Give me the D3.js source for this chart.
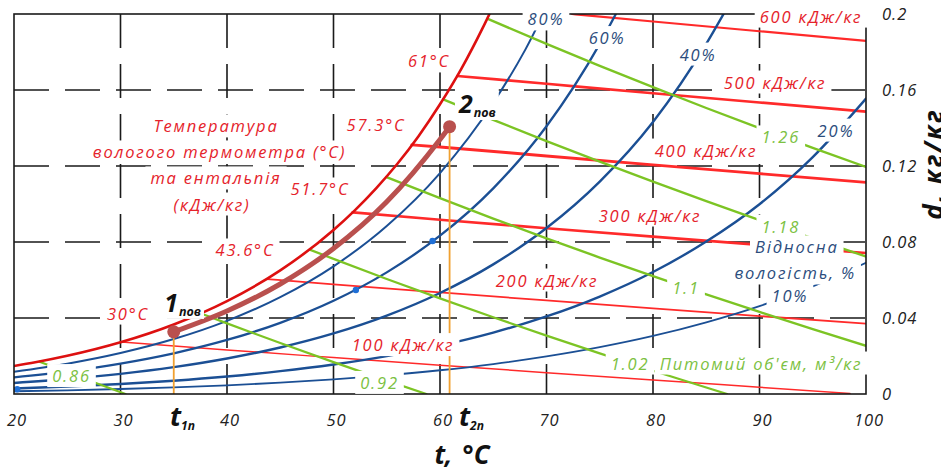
<!DOCTYPE html>
<html><head><meta charset="utf-8">
<script src="https://cdn.jsdelivr.net/npm/d3@7"></script>
<style>
body{margin:0;background:#fff;}
text{font-family:"Open Sans","Noto Sans",sans-serif;font-style:italic;}
</style></head><body>
<svg id="c" width="941" height="472"></svg>
<script>
// ---------- axes ----------
const tTicks = [20,30,40,50,60,70,80,90,100];
const tTickLabels = ["20","30","40","50","60","70","80","90","100"];
const dTicks = [0,0.04,0.08,0.12,0.16,0.2];
const dTickLabels = ["0","0.04","0.08","0.12","0.16","0.2"];

// ---------- saturation curve (φ = 100 %) [t, d] ----------
const saturation = [[20,0.0147],[22,0.01667],[25,0.02008],[30,0.0272],[35,0.03658],[40,0.04889],[45,0.06505],[50,0.08634],[52,0.09667],[54,0.10825],[56,0.12117],[58,0.13582],[60,0.15249],[62,0.1711],[64,0.19253],[65,0.20417]];

// ---------- relative humidity curves [t, d] ----------
const rh80 = [[20,0.0117],[25,0.01596],[30,0.02158],[35,0.02892],[40,0.03851],[45,0.05097],[50,0.0672],[55,0.08841],[60,0.11629],[65,0.15325],[68,0.18111],[70,0.2033]];
const rh60 = [[20,0.00873],[25,0.01189],[30,0.01604],[35,0.02144],[40,0.02844],[45,0.03746],[50,0.04908],[55,0.06402],[60,0.08332],[65,0.10825],[70,0.14095],[75,0.1843],[77,0.20525]];
const rh40 = [[20,0.0058],[25,0.00788],[30,0.0106],[35,0.01413],[40,0.01868],[45,0.02448],[50,0.03188],[55,0.04127],[60,0.05318],[65,0.06823],[70,0.08737],[75,0.11182],[80,0.14318],[85,0.1843],[87,0.20373]];
const rh20 = [[20,0.00289],[25,0.00392],[30,0.00526],[35,0.00699],[40,0.0092],[45,0.01201],[50,0.01554],[55,0.01997],[60,0.0255],[65,0.03234],[70,0.04082],[75,0.0513],[80,0.0642],[85,0.08026],[90,0.09989],[95,0.12469],[100,0.1555]];
const rh10 = [[20,0.00144],[25,0.00195],[30,0.00262],[35,0.00348],[40,0.00456],[45,0.00594],[50,0.00767],[55,0.00983],[60,0.01249],[65,0.01576],[70,0.01976],[75,0.02463],[80,0.03053],[85,0.0377],[90,0.04623],[95,0.05667],[100,0.0691]];

// ---------- enthalpy / wet-bulb lines [t, d] ----------
const h100 = [[30.1,0.0274],[40,0.0232],[50,0.01916],[60,0.01517],[70,0.01124],[80,0.00737],[90,0.00355],[98.5,0.0003]];
const h200 = [[43.75,0.0605],[50,0.05771],[60,0.05345],[70,0.04925],[80,0.04511],[90,0.04102],[100,0.03699]];
const h300 = [[51.8,0.0956],[60,0.09172],[70,0.08725],[80,0.08284],[90,0.0785],[100,0.07421]];
const h400 = [[57.35,0.1311],[60,0.13],[70,0.12526],[80,0.12058],[90,0.11597],[100,0.11143]];
const h500 = [[61.63,0.1674],[70,0.16326],[80,0.15832],[90,0.15345],[100,0.14864]];
const h600 = [[72.4,0.2],[80,0.19606],[90,0.19092],[100,0.18586]];

// ---------- specific volume lines [t, d] ----------
const v086 = [[22.4,0.017],[25,0.01141],[27.5,0.00614],[30.47,0]];
const v094 = [[37.5,0.0425],[40,0.03718],[45,0.02682],[50,0.01678],[55,0.00705],[58.72,0]];
const v102 = [[47.76,0.076],[50,0.07113],[55,0.06057],[60,0.05033],[65,0.04039],[70,0.03073],[75,0.02136],[80,0.01226],[85,0.0034],[86.96,0]];
const v110 = [[54.95,0.1142],[60,0.10306],[65,0.09234],[70,0.08193],[75,0.07183],[80,0.062],[85,0.05246],[90,0.04317],[95,0.03414],[100,0.02535]];
const v118 = [[60.3,0.1551],[65,0.14428],[70,0.13311],[75,0.12227],[80,0.11173],[85,0.10149],[90,0.09154],[95,0.08184],[100,0.07241]];
const v126 = [[64.45,0.1975],[70,0.18429],[75,0.17271],[80,0.16146],[85,0.15053],[90,0.13989],[95,0.12955],[100,0.11948]];

// ---------- process 1пов -> 2пов ----------
const processLine = [[35,0.0327],[40,0.0437],[45,0.0579],[50,0.0766],[55,0.1012],[60,0.134],[60.9,0.1407]];
const processPoints = [[35,0.0327],[60.9,0.1407]];
const smallDots = [[52.1,0.0547],[59.3,0.0805],[20.3,0.0025]];

// ---------- labels [text, t, d] ----------
const redLabels = [["600 кДж/кг",94.84,0.1989],["500 кДж/кг",91.46,0.1642],["400 кДж/кг",84.98,0.1284],["300 кДж/кг",79.72,0.0942],["200 кДж/кг",70.05,0.06],["100 кДж/кг",56.53,0.026],
  ["30°C",30.7,0.0426],["43.6°C",41.69,0.0758],["51.7°C",48.73,0.1079],["57.3°C",54.0,0.1416],["61°C",58.97,0.1753],
  ["Температура",38.97,0.1411],["вологого термометра (°C)",39.3,0.1274],["та ентальпія",38.97,0.1137],["(кДж/кг)",38.6,0.1]];
const blueLabels = [["80%",69.95,0.1974],["60%",75.68,0.1876],["40%",84.23,0.1789],["20%",97.18,0.1389],["10%",92.86,0.0516],["Відносна",93.5,0.0774],["вологість, %",93.35,0.0637]];
const greenLabels = [["0.86",25.4,0.0097],["0.92",54.32,0.0061],["1.02",77.84,0.0163],["Питомий об'єм, м³/кг",90.14,0.0163],["1.1",83.1,0.0563],["1.18",92.0,0.0884],["1.26",92.0,0.1353]];
const pointLabels = [["1","пов",34.1,0.0432],["2","пов",61.78,0.1479]];
const tLabels = [["t","1п",34.65],["t","2п",61.78]];

// ================= drawing =================
const svg = d3.select("#c");
const x = d3.scaleLinear().domain([20,100]).range([14,866]);
const y = d3.scaleLinear().domain([0,0.2]).range([394,14]);
const line = d3.line().x(p=>x(p[0])).y(p=>y(p[1])).curve(d3.curveMonotoneX);

svg.append("defs").append("clipPath").attr("id","plot")
  .append("rect").attr("x",x(20)).attr("y",y(0.2)).attr("width",x(100)-x(20)).attr("height",y(0)-y(0.2));

// grid
const grid = svg.append("g");
grid.selectAll("line.v").data(tTicks.slice(1,-1)).join("line")
  .attr("x1",d=>x(d)).attr("x2",d=>x(d)).attr("y1",y(0.2)).attr("y2",y(0))
  .attr("stroke","#1a1a1a").attr("stroke-width",1.6).attr("stroke-dasharray","34,16");
grid.selectAll("line.h").data(dTicks.slice(1,-1)).join("line")
  .attr("y1",d=>y(d)).attr("y2",d=>y(d)).attr("x1",x(20)).attr("x2",x(100))
  .attr("stroke","#1a1a1a").attr("stroke-width",1.6).attr("stroke-dasharray","35,16");

const plot = svg.append("g").attr("clip-path","url(#plot)");
function path(data,color,w){ plot.append("path").datum(data).attr("d",line).attr("fill","none").attr("stroke",color).attr("stroke-width",w).attr("stroke-linecap","round"); }

const RED="#ff2a2a", BLUE="#1b4f94", GREEN="#7cc424";
path(h100,RED,1.5); path(h200,RED,1.8); path(h300,RED,2.6); path(h400,RED,2.8); path(h500,RED,2.6); path(h600,RED,2.2);
path(rh10,BLUE,1.8); path(rh20,BLUE,2.4); path(rh40,BLUE,2.4); path(rh60,BLUE,2.3); path(rh80,BLUE,2);
path(v086,GREEN,2.2); path(v094,GREEN,2.2); path(v102,GREEN,2.2); path(v110,GREEN,2.4); path(v118,GREEN,2.4); path(v126,GREEN,2.4);
path(saturation,"#dd1010",2.6);

// orange verticals
plot.selectAll("line.o").data(processPoints).join("line")
  .attr("x1",p=>x(p[0])).attr("x2",p=>x(p[0])).attr("y1",p=>y(p[1])).attr("y2",y(0))
  .attr("stroke","#f0a030").attr("stroke-width",1.8);
path(processLine,"#b9504e",5);
plot.selectAll("circle.p").data(processPoints).join("circle")
  .attr("cx",p=>x(p[0])).attr("cy",p=>y(p[1])).attr("r",6.5).attr("fill","#b9504e");
plot.selectAll("circle.s").data(smallDots).join("circle")
  .attr("cx",p=>x(p[0])).attr("cy",p=>y(p[1])).attr("r",3.2).attr("fill","#1f6fd6");

// frame
svg.append("rect").attr("x",x(20)).attr("y",y(0.2)).attr("width",x(100)-x(20)).attr("height",y(0)-y(0.2))
  .attr("fill","none").attr("stroke","#1a1a1a").attr("stroke-width",1.6);

// axes
const ax = svg.append("g").attr("transform",`translate(0,${y(0)})`)
  .call(d3.axisBottom(x).tickValues(tTicks).tickFormat((d,i)=>tTickLabels[i]).tickSize(0).tickPadding(20));
ax.select(".domain").remove();
ax.selectAll("text").attr("font-size",16.5).attr("fill","#222").attr("dx",2.5).attr("letter-spacing",1)
  .style("font-family",'"Open Sans",sans-serif').style("font-style","italic");
const ay = svg.append("g").attr("transform",`translate(${x(100)},0)`)
  .call(d3.axisRight(y).tickValues(dTicks).tickFormat((d,i)=>dTickLabels[i]).tickSize(0).tickPadding(16));
ay.select(".domain").remove();
ay.selectAll("text").attr("font-size",16.5).attr("fill","#222").attr("letter-spacing",1)
  .style("font-family",'"Open Sans",sans-serif').style("font-style","italic");

// labels with white boxes
const lab = svg.append("g");
function boxed(txt,t,d,color,size,ls){
  const g = lab.append("g");
  const r = g.append("rect").attr("fill","#fff");
  const tx = g.append("text").attr("x",x(t)).attr("y",y(d)).attr("text-anchor","middle").attr("dominant-baseline","central")
    .attr("font-size",size).attr("letter-spacing",ls).attr("fill",color).text(txt);
  const b = tx.node().getBBox();
  r.attr("x",b.x-5).attr("y",b.y).attr("width",b.width+10).attr("height",b.height);
}
redLabels.forEach(a=>boxed(a[0],a[1],a[2],"#e5232b",16.5,1.8));
blueLabels.forEach(a=>boxed(a[0],a[1],a[2],"#2c4d7d",16.5,1.8));
greenLabels.forEach(a=>boxed(a[0],a[1],a[2],"#7cc142",16.5,1.8));

pointLabels.forEach(a=>{
  const g = lab.append("g");
  const r = g.append("rect").attr("fill","#fff");
  const tx = g.append("text").attr("x",x(a[2])).attr("y",y(a[3])).attr("font-weight","bold").attr("fill","#111");
  tx.append("tspan").attr("font-size",25).text(a[0]);
  tx.append("tspan").attr("font-size",12.5).attr("dy",4).attr("dx",1).text(a[1]);
  const b = tx.node().getBBox();
  r.attr("x",b.x-3).attr("y",b.y+3).attr("width",b.width+6).attr("height",b.height-4);
});
tLabels.forEach(a=>{
  const tx = lab.append("text").attr("x",x(a[2])).attr("y",y(0)+32).attr("font-weight","bold").attr("fill","#111");
  tx.append("tspan").attr("font-size",27).text(a[0]);
  tx.append("tspan").attr("font-size",12).attr("dy",4).attr("dx",0).text(a[1]);
});

// axis titles
const xt = svg.append("text").attr("x",462).attr("y",464).attr("text-anchor","middle").attr("font-size",26).attr("font-weight","bold").attr("fill","#111");
xt.append("tspan").text("t,");
xt.append("tspan").attr("dx",10).text("°C");
svg.append("text").attr("transform","translate(943,164) rotate(-90)").attr("text-anchor","middle")
  .attr("font-size",26).attr("font-weight","bold").attr("letter-spacing",2).attr("fill","#111").text("d, кг/кг");
</script>
</body></html>
